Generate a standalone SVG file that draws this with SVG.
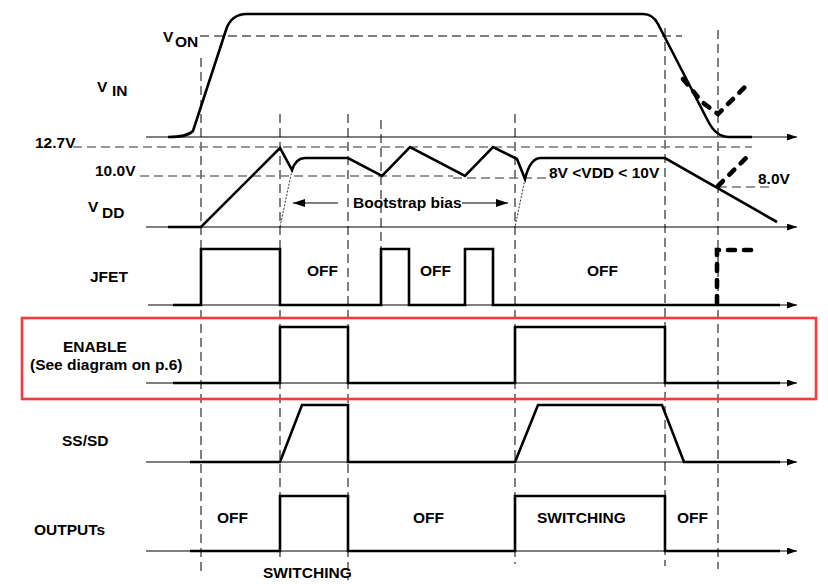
<svg xmlns="http://www.w3.org/2000/svg" width="828" height="584" viewBox="0 0 828 584">
<defs>
<style>
.bg{fill:#ffffff}
.lbl{font-family:"Liberation Sans",Arial,sans-serif;font-weight:bold;font-size:15.5px;fill:#000}
.axis{fill:none;stroke:#000;stroke-width:1;marker-end:url(#ax)}
.wave{fill:none;stroke:#000;stroke-width:2.6;stroke-linejoin:miter}
.vd{fill:none;stroke:#000;stroke-width:1;stroke-dasharray:9 5}
.hd{fill:none;stroke:#555;stroke-width:1.5;stroke-dasharray:9 5}
.hd2{fill:none;stroke:#777;stroke-width:1.6;stroke-dasharray:9 5}
.thick{fill:none;stroke:#000;stroke-width:4.6;stroke-dasharray:7 9;stroke-linecap:round}
.dot{fill:none;stroke:#000;stroke-width:0.8;stroke-dasharray:2 1.5}
.arr{fill:none;stroke:#000;stroke-width:1.2}
</style>
<marker id="ax" viewBox="0 0 10 7" refX="10" refY="3.5" markerWidth="11" markerHeight="7" markerUnits="userSpaceOnUse" orient="auto">
<path d="M0,0 L10,3.5 L0,7 z" fill="#000"/>
</marker>
<marker id="ah" viewBox="0 0 12 8" refX="12" refY="4" markerWidth="12" markerHeight="8" markerUnits="userSpaceOnUse" orient="auto">
<path d="M0,0 L12,4 L0,8 z" fill="#000"/>
</marker>
</defs>
<rect class="bg" x="0" y="0" width="828" height="584"/>

<g id="guides">
<path class="vd" d="M201,58 V575"/>
<path class="vd" d="M280,114 V562"/>
<path class="vd" d="M348,114 V580"/>
<path class="vd" d="M381,120 V249"/>
<path class="vd" d="M515,114 V564"/>
<path class="vd" d="M665,28 V566"/>
<path class="vd" d="M718,30 V569"/>
<path class="hd" d="M200,36 H682"/>
<path class="hd2" d="M73,147 H752"/>
<path class="hd2" d="M140,176 H453"/>
<path class="hd2" d="M453,178 H553"/>
<path class="hd2" d="M718,187 H773"/>
<path class="dot" d="M292,170 L280,227"/>
<path class="dot" d="M525,179 L515,227"/>
</g>

<g id="axes">
<path class="axis" d="M146,137 H797"/>
<path class="axis" d="M146,227 H797"/>
<path class="axis" d="M148,305 H797"/>
<path class="axis" d="M146,383 H797"/>
<path class="axis" d="M146,462 H797"/>
<path class="axis" d="M146,551 H797"/>
</g>

<g id="vin">
<path class="wave" d="M168,137 C180,137 188,136 193,131 L226,30 Q231,14 247,14 L643,14 Q653,14 658,24 L708,121 Q716,137 729,137 L752,137"/>
<path class="thick" d="M683,79 L702,102 L718,114 L746,86"/>
<text class="lbl" x="163" y="42">V<tspan x="175" y="47">ON</tspan></text>
<text class="lbl" x="97" y="92">V<tspan x="112" y="96">IN</tspan></text>
</g>

<g id="vdd">
<path class="wave" d="M168,227 L201,227 L280,148 L292,170 Q296,158 305,158 L348,158 L382,176 L410,147 L465,176 L493,147 L517,159 L525,179 Q530,158 541,158 L665,158 L777,222"/>
<path class="thick" d="M718,186 L746,158"/>
<text class="lbl" x="35" y="148">12.7V</text>
<text class="lbl" x="95" y="176">10.0V</text>
<text class="lbl" x="88" y="212">V<tspan x="102" y="218">DD</tspan></text>
<text class="lbl" x="549" y="178">8V &lt;VDD &lt; 10V</text>
<text class="lbl" x="758" y="184">8.0V</text>
</g>

<g id="bootstrap">
<path class="arr" d="M338,203 H293" marker-end="url(#ah)"/>
<path class="arr" d="M462,203 H508" marker-end="url(#ah)"/>
<text class="lbl" x="353" y="208">Bootstrap bias</text>
</g>

<g id="jfet">
<path class="wave" d="M173,305 L201,305 L201,249 L280,249 L280,305 L381,305 L381,249 L409,249 L409,305 L465,305 L465,249 L493,249 L493,305 L780,305"/>
<path class="thick" d="M717,303 L717,250 L752,250"/>
<text class="lbl" x="90" y="282">JFET</text>
<text class="lbl" x="307" y="276">OFF</text>
<text class="lbl" x="420" y="276">OFF</text>
<text class="lbl" x="587" y="276">OFF</text>
</g>

<g id="enable">
<rect x="22" y="318" width="794" height="81" fill="none" stroke="#f23b3b" stroke-width="2.6"/>
<path class="wave" d="M173,383 L280,383 L280,327 L348,327 L348,383 L515,383 L515,327 L665,327 L665,383 L780,383"/>
<text class="lbl" x="63" y="352">ENABLE</text>
<text class="lbl" x="30" y="370">(See diagram on p.6)</text>
</g>

<g id="sssd">
<path class="wave" d="M190,462 L280,462 L302,405 L348,405 L348,462 L515,462 L538,405 L662,405 L684,462 L780,462"/>
<text class="lbl" x="62" y="446">SS/SD</text>
</g>

<g id="outputs">
<path class="wave" d="M190,551 L280,551 L280,496 L348,496 L348,551 L515,551 L515,496 L665,496 L665,551 L780,551"/>
<text class="lbl" x="34" y="535">OUTPUTs</text>
<text class="lbl" x="217" y="523">OFF</text>
<text class="lbl" x="263" y="578">SWITCHING</text>
<text class="lbl" x="413" y="523">OFF</text>
<text class="lbl" x="537" y="523">SWITCHING</text>
<text class="lbl" x="677" y="523">OFF</text>
</g>
</svg>
